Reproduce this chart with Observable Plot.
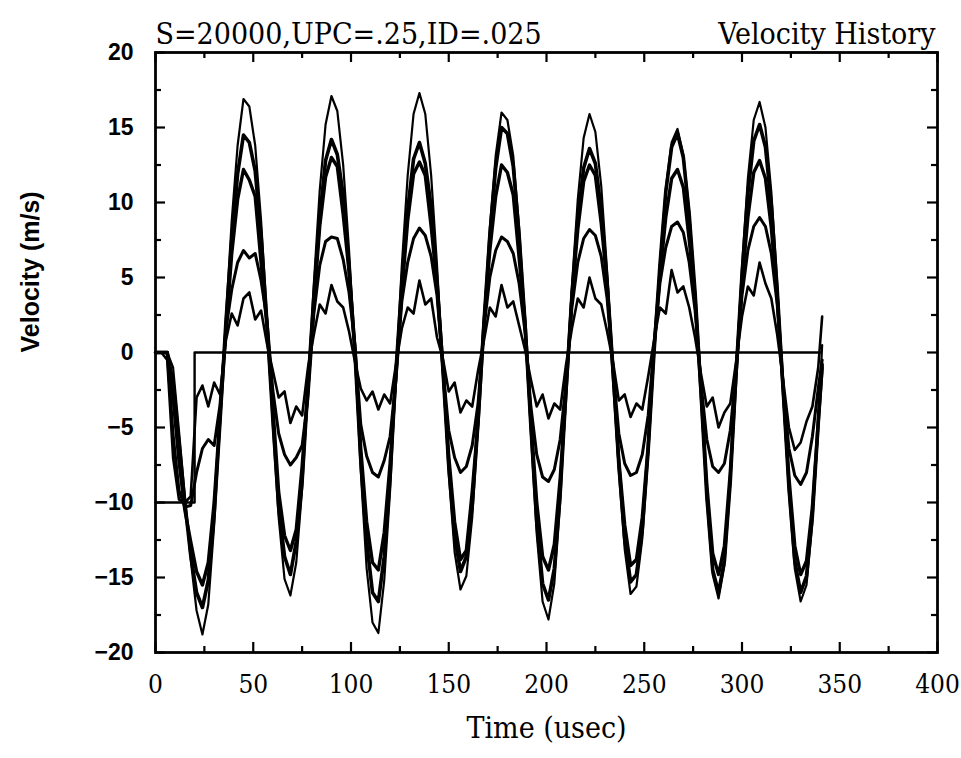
<!DOCTYPE html>
<html><head><meta charset="utf-8">
<script src="https://cdn.jsdelivr.net/npm/d3@7"></script>
<script src="https://cdn.jsdelivr.net/npm/@observablehq/plot@0.6"></script>
<style>body{margin:0;background:#fff}svg{color:#000}</style>
</head><body><div id="chart"></div>
<script>
const time = [0,3,6,9,12,15,18,21,24,27,30,33,36,39,42,45,48,51,54,57,60,63,66,69,72,75,78,81,84,87,90,93,96,99,102,105,108,111,114,117,120,123,126,129,132,135,138,141,144,147,150,153,156,159,162,165,168,171,174,177,180,183,186,189,192,195,198,201,204,207,210,213,216,219,222,225,228,231,234,237,240,243,246,249,252,255,258,261,264,267,270,273,276,279,282,285,288,291,294,297,300,303,306,309,312,315,318,321,324,327,330,333,336,339,341];

const velA = [0,0,0,-1.0,-5.2,-9.6,-13.8,-17.2,-18.8,-16.8,-11.5,-4.8,
2.3,8.8,13.8,16.9,16.4,13.8,8.8,2.3,
-4.8,-11.0,-15.1,-16.2,-14.0,-9.1,-2.4,
4.6,10.8,15.2,17.1,16.1,12.5,6.8,
0,-7.9,-14.4,-18.0,-18.7,-15.2,-9.2,-1.4,
5.8,11.8,15.9,17.3,15.9,11.8,5.8,
-1.2,-8.1,-13.3,-15.8,-14.9,-11.0,-4.8,
2.2,8.3,13.1,16.0,15.5,13.1,8.3,2.2,
-5.3,-12.1,-16.6,-17.8,-15.4,-10.0,-2.7,
4.4,10.2,14.3,15.9,14.7,11.1,5.4,
-1.2,-7.9,-13.1,-16.1,-15.6,-12.4,-6.8,
0,5.9,10.9,14.0,14.9,13.2,9.4,4.0,
-2.6,-9.8,-14.8,-16.4,-14.2,-8.8,-1.3,
5.7,11.6,15.5,16.7,15.0,10.7,4.6,
-2.5,-9.3,-14.4,-16.6,-15.5,-11.3,-4.9,0.5];

const velB = [0,0,0,-2.0,-6.0,-10.0,-13.5,-16.0,-17.0,-15.2,-10.8,-4.6,
2.0,7.5,11.9,14.5,14.0,12.1,7.8,2.0,
-4.4,-10.3,-13.6,-14.8,-12.6,-8.6,-2.2,
3.8,9.0,12.8,14.2,13.2,10.5,5.7,
0,-7.2,-12.6,-16.0,-16.6,-13.6,-8.3,-1.2,
4.6,9.5,12.9,14.0,12.6,9.7,4.7,
-1.1,-7.6,-12.2,-14.6,-13.6,-10.2,-4.6,
2.0,7.8,12.3,15.0,14.6,12.4,7.8,2.0,
-4.9,-11.3,-15.4,-16.5,-14.4,-9.4,-2.5,
3.8,8.9,12.3,13.6,12.6,9.5,4.7,
-1.1,-7.5,-12.4,-15.3,-14.8,-11.8,-6.5,
0,5.8,10.7,13.7,14.6,13.0,9.2,4.0,
-2.6,-9.6,-14.5,-16.0,-13.9,-8.6,-1.3,
5.2,10.6,14.1,15.2,13.7,9.8,4.2,
-2.4,-9.0,-13.9,-16.0,-14.9,-10.9,-4.7,-0.8];

const velC = [0,0,0,-3.0,-7.2,-10.5,-12.6,-14.6,-15.5,-14.0,-10.0,-4.2,
1.4,6.6,10.2,12.2,11.5,10.4,6.0,1.8,
-3.6,-9.3,-12.2,-13.2,-11.8,-7.6,-2.3,
3.2,8.4,11.7,13.0,12.4,9.2,5.4,
0.3,-6.4,-11.3,-14.0,-14.5,-12.0,-7.4,-1.5,
4.0,8.8,11.9,12.7,11.8,8.4,4.5,
-0.9,-6.9,-11.3,-13.8,-13.2,-9.3,-4.6,
1.9,6.8,10.4,12.5,12.0,10.5,6.3,2.0,
-4.5,-10.0,-13.6,-14.5,-12.8,-8.4,-2.6,
3.7,8.2,11.4,12.5,11.8,8.6,4.6,
-1.3,-7.2,-11.5,-14.2,-13.8,-11.0,-6.2,
0.4,5.1,9.0,11.6,12.2,11.0,7.5,3.6,
-2.5,-8.8,-13.4,-14.8,-12.9,-8.0,-1.4,
4.6,9.0,12.0,12.8,11.6,8.3,3.7,
-2.3,-8.3,-12.9,-14.8,-13.9,-10.3,-4.6,-1.0];

const velD = [0,0,0,-5.5,-9.2,-10.3,-10.2,-8.0,-6.4,-5.8,-6.2,-3.5,
1.5,4.2,6.0,6.8,6.3,6.6,4.8,2.2,
-2.5,-5.4,-6.8,-7.5,-7.0,-6.2,-3.0,
2.6,5.8,7.4,7.7,7.6,6.2,4.0,
0.5,-4.8,-6.9,-8.0,-8.3,-7.2,-5.6,-1.8,
3.4,6.0,7.6,8.3,7.8,6.4,3.8,
-1.0,-5.2,-7.0,-8.0,-7.6,-6.2,-3.4,
1.6,5.0,6.8,7.7,7.4,6.6,4.6,1.4,
-3.6,-6.8,-8.3,-8.6,-7.8,-5.8,-2.0,
3.0,6.0,7.6,8.2,7.8,6.4,3.6,
-1.0,-5.4,-7.4,-8.2,-8.0,-6.8,-4.2,
0.4,4.6,7.0,8.4,8.7,8.0,6.0,2.8,
-2.0,-5.8,-7.6,-8.0,-7.4,-5.2,-1.2,
3.8,6.8,8.4,9.0,8.4,6.6,3.2,
-2.2,-6.4,-8.2,-8.8,-8.0,-5.6,-2.4,-0.5];

const velE = [0,0,-0.5,-7.0,-9.8,-10.0,-9.6,-3.0,-2.2,-3.6,-2.0,-2.8,
0.8,2.6,1.8,3.6,4.0,2.2,2.8,0.6,
-1.2,-3.0,-2.6,-4.7,-3.6,-4.2,-1.0,
1.2,3.2,2.6,4.5,3.4,3.0,1.4,
-0.6,-2.4,-3.2,-2.6,-3.8,-2.8,-3.4,-0.8,
1.6,3.0,2.6,4.8,3.2,3.6,1.0,
-0.4,-2.6,-2.0,-4.0,-3.2,-3.6,-1.2,
0.8,3.0,2.4,4.5,3.0,3.4,1.8,0.2,
-1.8,-3.6,-2.8,-4.4,-3.4,-3.8,-0.8,
1.6,3.6,3.0,5.0,3.6,3.2,1.4,
-0.6,-3.2,-2.8,-4.3,-3.4,-3.8,-1.6,
0.8,3.0,2.6,5.5,4.0,4.4,3.0,1.0,
-1.4,-3.6,-3.0,-5.0,-4.0,-3.4,-0.6,
2.4,4.4,3.8,6.0,4.6,3.6,1.2,
-1.8,-5.0,-6.5,-6.0,-4.6,-3.6,-1.0,2.4];

const stepTime = [0, 20, 20, 340];
const stepVel = [-10, -10, 0, 0];

const xMajor = [0, 50, 100, 150, 200, 250, 300, 350, 400];
const xMinor = [25, 75, 125, 175, 225, 275, 325, 375];
const xTickLabels = ["0", "50", "100", "150", "200", "250", "300", "350", "400"];
const yMajor = [-20, -15, -10, -5, 0, 5, 10, 15, 20];
const yMinor = [-17.5, -12.5, -7.5, -2.5, 2.5, 7.5, 12.5, 17.5];
const yTickLabels = ["\u221220", "\u221215", "\u221210", "\u22125", "0", "5", "10", "15", "20"];

const titleLeft = "S=20000,UPC=.25,ID=.025";
const titleRight = "Velocity History";
const xLabel = "Time (usec)";
const yLabel = "Velocity (m/s)";

const seriesList = [
  {v: velA, w: 2.2},
  {v: velB, w: 3.6},
  {v: velC, w: 3.4},
  {v: velD, w: 3.0},
  {v: velE, w: 2.6}
];

const W = 961, H = 758;
const mL = 155, mR = 24, mT = 52, mB = 106;
const xRange = 400, yRange = 40;
const pxX = (W - mL - mR) / xRange;
const pxY = (H - mT - mB) / yRange;
const majLen = 10, minLen = 6;

const serif = "'DejaVu Serif Condensed', 'DejaVu Serif', serif";
const sans = "'Liberation Sans', Arial, sans-serif";

const lineMarks = seriesList.map(s => Plot.line(time.map((t, i) => ({t, v: s.v[i]})), {
  x: "t", y: "v", stroke: "#000", strokeWidth: s.w, strokeLinejoin: "round", strokeLinecap: "round"
}));

const chart = Plot.plot({
  width: W, height: H,
  marginLeft: mL, marginRight: mR, marginTop: mT, marginBottom: mB,
  x: {domain: [0, 400]},
  y: {domain: [-20, 20]},
  style: {background: "#fff", color: "#000"},
  marks: [
    Plot.line(stepTime.map((t, i) => ({t, v: stepVel[i]})), {x: "t", y: "v", stroke: "#000", strokeWidth: 2.4}),
    ...lineMarks,
    Plot.ruleX(xMajor, {y1: -20, y2: -20 + majLen / pxY, stroke: "#000", strokeWidth: 2.2}),
    Plot.ruleX(xMinor, {y1: -20, y2: -20 + minLen / pxY, stroke: "#000", strokeWidth: 2.2}),
    Plot.ruleX(xMajor, {y1: 20, y2: 20 - majLen / pxY, stroke: "#000", strokeWidth: 2.2}),
    Plot.ruleX(xMinor, {y1: 20, y2: 20 - minLen / pxY, stroke: "#000", strokeWidth: 2.2}),
    Plot.ruleY(yMajor, {x1: 0, x2: majLen / pxX, stroke: "#000", strokeWidth: 2.2}),
    Plot.ruleY(yMinor, {x1: 0, x2: minLen / pxX, stroke: "#000", strokeWidth: 2.2}),
    Plot.ruleY(yMajor, {x1: 400, x2: 400 - majLen / pxX, stroke: "#000", strokeWidth: 2.2}),
    Plot.ruleY(yMinor, {x1: 400, x2: 400 - minLen / pxX, stroke: "#000", strokeWidth: 2.2}),
    Plot.frame({stroke: "#000", strokeWidth: 2.8}),
    Plot.axisX(xMajor, {tickSize: 0, tickPadding: 22, fontSize: 26, fontFamily: serif,
      tickFormat: d => xTickLabels[xMajor.indexOf(d)], label: null}),
    Plot.axisY(yMajor, {tickSize: 0, tickPadding: 22, fontSize: 23, fontWeight: "bold", fontFamily: sans,
      tickFormat: d => yTickLabels[yMajor.indexOf(d)], label: null}),
    Plot.text([titleLeft], {frameAnchor: "top-left", dy: -30, dx: 0, textAnchor: "start", fontSize: 30, fontFamily: serif}),
    Plot.text([titleRight], {frameAnchor: "top-right", dy: -30, dx: -2, textAnchor: "end", fontSize: 30, fontFamily: serif}),
    Plot.text([xLabel], {frameAnchor: "bottom", dy: 85, fontSize: 30, fontFamily: serif}),
    Plot.text([yLabel], {frameAnchor: "left", dx: -125, rotate: -90, fontSize: 25, fontWeight: "bold", fontFamily: sans})
  ]
});
document.getElementById("chart").appendChild(chart);
</script>
</body></html>
